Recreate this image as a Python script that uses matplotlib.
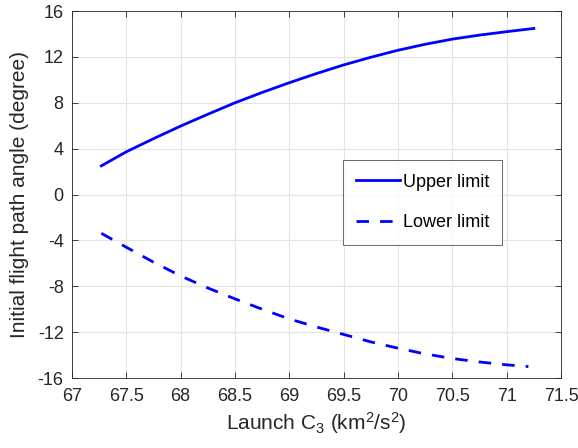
import matplotlib

matplotlib.use("Agg")
import matplotlib.pyplot as plt

# Launch C3 sample points (km^2/s^2) and flight path angle limits (deg)
c3_upper = [67.27, 67.5, 67.75, 68.0, 68.25, 68.5, 68.75, 69.0, 69.25,
            69.5, 69.75, 70.0, 70.25, 70.5, 70.75, 71.0, 71.25]
upper_limit = [2.5, 3.73, 4.87, 5.97, 7.0, 8.0, 8.9, 9.75, 10.55,
               11.3, 11.97, 12.58, 13.1, 13.55, 13.9, 14.2, 14.48]

c3_lower = [67.27, 67.5, 67.75, 68.0, 68.25, 68.5, 68.75, 69.0, 69.25,
            69.5, 69.75, 70.0, 70.25, 70.5, 70.75, 71.0, 71.2]
lower_limit = [-3.38, -4.6, -5.9, -7.1, -8.15, -9.1, -10.0, -10.85, -11.55,
               -12.2, -12.85, -13.4, -13.9, -14.3, -14.6, -14.85, -15.0]

x_ticks = [67, 67.5, 68, 68.5, 69, 69.5, 70, 70.5, 71, 71.5]
y_ticks = list(range(-16, 17, 4))

plt.rcParams["font.family"] = ["Liberation Sans", "DejaVu Sans"]
plt.rcParams["mathtext.default"] = "regular"
plt.rcParams["axes.unicode_minus"] = False

axis_color = "#262626"

fig = plt.figure(figsize=(5.78, 4.48), dpi=100)
ax = fig.add_axes([0.1246, 0.1562, 0.846, 0.8192])

ax.plot(c3_upper, upper_limit, color="#0000ff", linewidth=2, label="Upper limit")
ax.plot(c3_lower, lower_limit, color="#0000ff", linewidth=2,
        dashes=(4.5, 4.0), label="Lower limit")

ax.set_xlim(67, 71.5)
ax.set_ylim(-16, 16)
ax.set_xticks(x_ticks)
ax.set_xticklabels([f"{t:g}" for t in x_ticks])
ax.set_yticks(y_ticks)

ax.grid(True, color="#e3e3e3", linewidth=0.8)
ax.set_axisbelow(True)
ax.tick_params(direction="in", top=True, right=True, length=4,
               labelsize=13, colors=axis_color, width=0.6)
ax.tick_params(axis="x", pad=7)
ax.tick_params(axis="y", pad=6)
for spine in ax.spines.values():
    spine.set_color(axis_color)
    spine.set_linewidth(0.6)

ax.set_xlabel("Launch C$_3$ (km$^2$/s$^2$)", fontsize=15, color=axis_color,
              labelpad=4)
ax.set_ylabel("Initial flight path angle (degree)", fontsize=15,
              color=axis_color, labelpad=6)

leg = ax.legend(loc="upper left", bbox_to_anchor=(0.554, 0.594), fontsize=13,
                frameon=True, fancybox=False, edgecolor=axis_color,
                handlelength=2.4, labelspacing=1.3, borderpad=0.75,
                handletextpad=0.15, borderaxespad=0)
leg.get_frame().set_linewidth(0.6)

fig.savefig("out.png", dpi=100)
